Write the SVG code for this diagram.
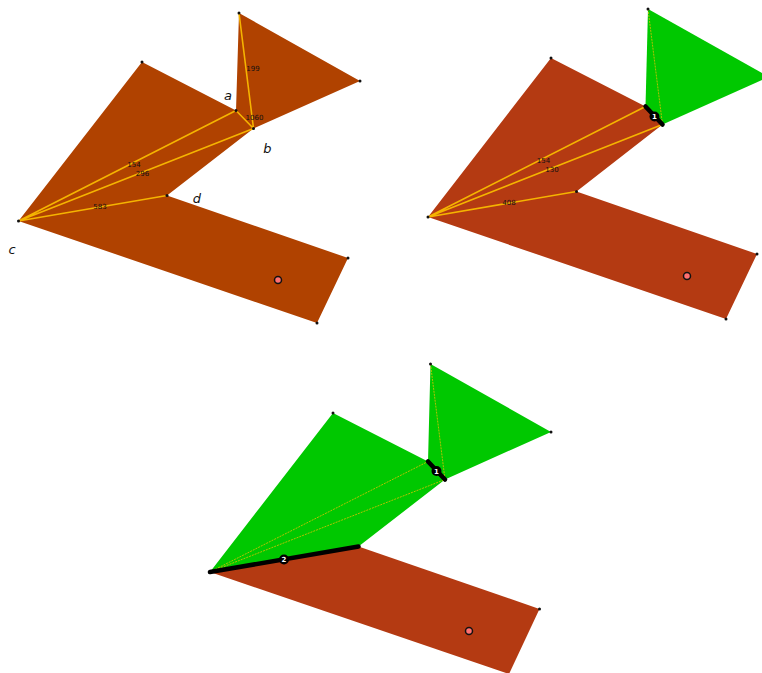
<svg xmlns="http://www.w3.org/2000/svg" width="762" height="673" viewBox="0 0 762 673">
<style>
.orange{fill:#b04200}
.red{fill:#b43a12}
.green{fill:#00c800}
.e{stroke:#f5b400;stroke-width:1.6;fill:none}
.t{stroke:#e0c000;stroke-width:.8;stroke-dasharray:2 1;fill:none}
.v{fill:#111}
.cut{stroke:#000;stroke-width:4.500;stroke-linecap:round;fill:none}
.w{font:7px "DejaVu Sans",sans-serif;fill:#111;text-anchor:middle}
.l{font:italic 13px "DejaVu Sans",sans-serif;fill:#111;text-anchor:middle}
.n{font:7px "DejaVu Sans",sans-serif;fill:#fff;text-anchor:middle;font-weight:bold}
.dot{fill:#ff7070;stroke:#111;stroke-width:1.500}
</style>
<rect width="762" height="673" fill="#fff"/>
<g id="panel-a">
<g id="a-poly"><polygon class="orange" points="239,13 360,81 253.500,128.500 167,195.500 348,258 317,323 18.500,221 142,62 236,110.500"/></g>
<g id="a-connectors">
<path class="e" d="M18.500,221L236,110.500M18.500,221L253.500,128.500M18.500,221L167,195.500M236,110.500L253.500,128.500M239,13L253.500,128.500"/>
</g>
<g id="a-vertices">
<circle class="v" cx="239" cy="13" r="1.500"/><circle class="v" cx="360" cy="81" r="1.500"/><circle class="v" cx="253.500" cy="128.500" r="1.500"/><circle class="v" cx="167" cy="195.500" r="1.500"/><circle class="v" cx="348" cy="258" r="1.500"/><circle class="v" cx="317" cy="323" r="1.500"/><circle class="v" cx="18.500" cy="221" r="1.500"/><circle class="v" cx="142" cy="62" r="1.500"/><circle class="v" cx="236" cy="110.500" r="1.500"/>
</g>
<circle class="dot" cx="278" cy="280" r="3.500"/>
<text class="w" x="253" y="71">199</text><text class="w" x="254.500" y="120">1060</text><text class="w" x="134" y="167">154</text><text class="w" x="142.500" y="175.500">296</text><text class="w" x="100" y="208.500">583</text>
<text class="l" x="228" y="100">a</text><text class="l" x="267.500" y="153">b</text><text class="l" x="12" y="254">c</text><text class="l" x="197" y="203">d</text>
</g>
<g id="panel-b">
<g id="b-poly"><polygon class="red" points="645.500,106.500 662.500,124.500 576.500,191.500 757,254 726,319 428,217 551,58"/><polygon class="green" points="648,9 769,77 662.500,124.500 645.500,106.500"/></g>
<g id="b-connectors">
<path class="e" d="M428,217L645.500,106.500M428,217L662.500,124.500M428,217L576.500,191.500"/>
<path class="t" d="M648,9L662.500,124.500"/>
<path class="cut" d="M645.500,106.500L662.500,124.500"/>
</g>
<g id="b-vertices">
<circle class="v" cx="648" cy="9" r="1.500"/><circle class="v" cx="576.500" cy="191.500" r="1.500"/><circle class="v" cx="757" cy="254" r="1.500"/><circle class="v" cx="726" cy="319" r="1.500"/><circle class="v" cx="428" cy="217" r="1.500"/><circle class="v" cx="551" cy="58" r="1.500"/>
</g>
<circle class="dot" cx="687" cy="276" r="3.500"/>
<circle cx="654.500" cy="116.500" r="5" fill="#000"/><text class="n" x="654.500" y="119">1</text>
<text class="w" x="543.500" y="163">154</text><text class="w" x="552" y="171.500">130</text><text class="w" x="509" y="204.500">408</text>
</g>
<g id="panel-c">
<g id="c-poly"><polygon class="red" points="358.500,546.500 539.500,609 509,674 210,572"/><polygon class="green" points="430.500,364 551,432 445,479.500 358.500,546.500 210,572 333,413 428,461.500"/></g>
<g id="c-connectors">
<path class="t" d="M210,572L428,461.500M210,572L445,479.500M430.500,364L445,479.500"/>
<path class="cut" d="M428,461.500L445,479.500"/>
<path class="cut" d="M210,572L358.500,546.500"/>
</g>
<g id="c-vertices">
<circle class="v" cx="430.500" cy="364" r="1.500"/><circle class="v" cx="551" cy="432" r="1.500"/><circle class="v" cx="539.500" cy="609" r="1.500"/><circle class="v" cx="333" cy="413" r="1.500"/>
</g>
<circle class="dot" cx="469" cy="631" r="3.500"/>
<circle cx="436.500" cy="471" r="5" fill="#000"/><text class="n" x="436.500" y="473.500">1</text>
<circle cx="284" cy="559.500" r="5" fill="#000"/><text class="n" x="284" y="562">2</text>
</g>
</svg>
